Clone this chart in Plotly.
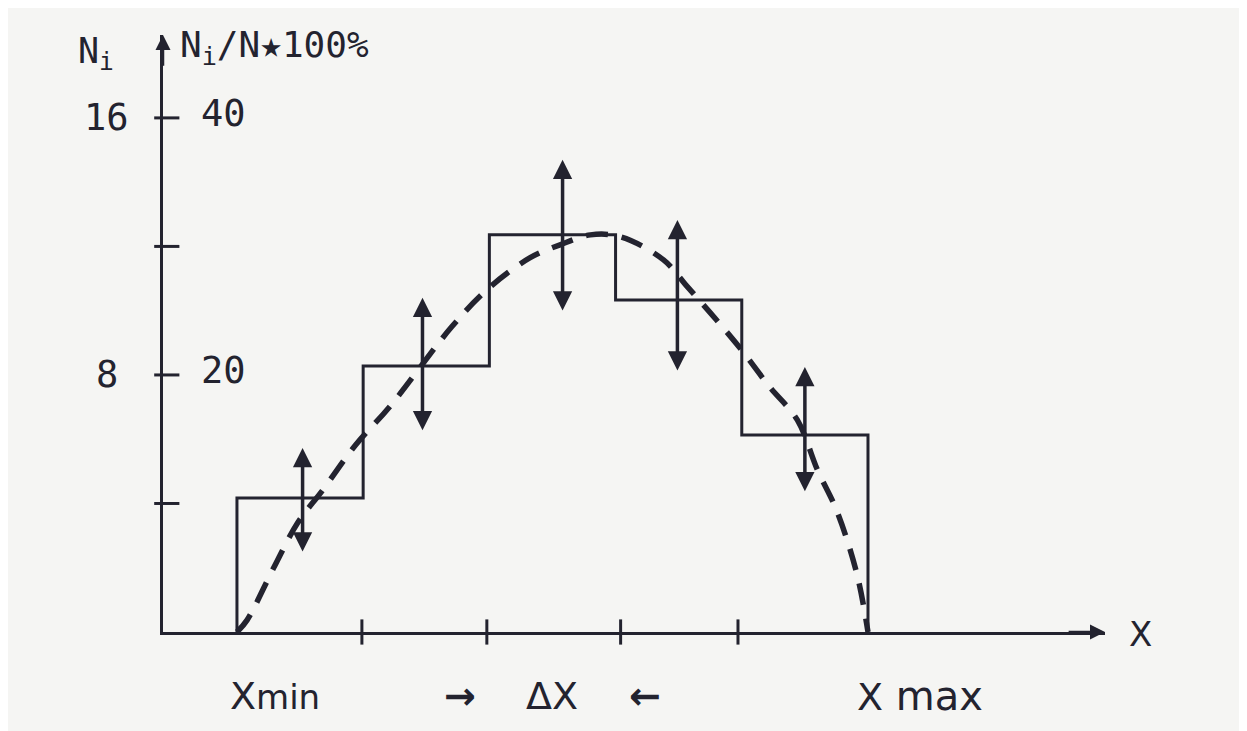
import plotly.graph_objects as go

# ---------------- data ----------------
bin_edges = [0, 1, 2, 3, 4, 5]
counts = [4.17, 8.28, 12.36, 10.33, 6.13]

err_x = [0.52, 1.47, 2.58, 3.49, 4.50]
err_low = [2.46, 6.23, 9.96, 8.09, 4.33]
err_high = [5.73, 10.40, 14.70, 12.82, 8.25]

curve_x = [0.0, 0.08, 0.29, 0.48, 0.68, 0.94, 1.21, 1.70, 1.98, 2.32, 2.56,
           2.80, 3.04, 3.38, 3.57, 3.80, 4.01, 4.22, 4.44, 4.60, 4.75, 4.91, 5.0]
curve_y = [0.0, 0.37, 1.99, 3.39, 4.42, 5.82, 7.01, 9.49, 10.65, 11.64, 12.05,
           12.36, 12.30, 11.58, 10.74, 9.71, 8.72, 7.63, 6.60, 5.04, 3.80, 1.84, 0.0]

y_tick_vals = [4, 8, 12, 16]
x_tick_vals = [0.99, 1.98, 3.04, 3.97]
y_label_vals = [16, 8]
y_left_text = ["16", "8"]
y_right_text = ["40", "20"]

INK = "#23232f"
PAPER = "#f5f5f3"

X_RANGE = [-0.586, 6.878]
Y_RANGE = [0, 18.58]


def px(u):
    return (u - X_RANGE[0]) / (X_RANGE[1] - X_RANGE[0])


def py(v):
    return (v - Y_RANGE[0]) / (Y_RANGE[1] - Y_RANGE[0])


fig = go.Figure()

# histogram outline as steps
hx, hy = [bin_edges[0]], [0]
for i, c in enumerate(counts):
    hx += [bin_edges[i], bin_edges[i + 1]]
    hy += [c, c]
hx.append(bin_edges[-1])
hy.append(0)
fig.add_trace(go.Scatter(x=hx, y=hy, mode="lines",
                         line=dict(color=INK, width=3), cliponaxis=False,
                         hoverinfo="skip", showlegend=False))

# dashed smooth curve
fig.add_trace(go.Scatter(x=curve_x, y=curve_y, mode="lines",
                         line=dict(color=INK, width=5.5, dash="22px,14px", shape="spline"),
                         cliponaxis=False, hoverinfo="skip", showlegend=False))

# tick marks crossing the axes
fig.add_trace(go.Scatter(x=x_tick_vals, y=[0] * len(x_tick_vals), mode="markers",
                         marker=dict(symbol="line-ns", size=18,
                                     line=dict(color=INK, width=3)),
                         cliponaxis=False, hoverinfo="skip", showlegend=False))
fig.add_trace(go.Scatter(x=[X_RANGE[0] + 0.03] * len(y_tick_vals), y=y_tick_vals,
                         mode="markers",
                         marker=dict(symbol="line-ew", size=18,
                                     line=dict(color=INK, width=3)),
                         cliponaxis=False, hoverinfo="skip", showlegend=False))

annotations = []

# double-headed uncertainty arrows
for ex, lo, hi in zip(err_x, err_low, err_high):
    annotations.append(dict(x=ex, y=hi, ax=ex, ay=lo, xref="x", yref="y",
                            axref="x", ayref="y", text="", showarrow=True,
                            arrowhead=2, arrowside="end+start", arrowsize=1.1,
                            arrowwidth=3.5, arrowcolor=INK))

# axis arrowheads
annotations.append(dict(x=X_RANGE[1], y=0, ax=X_RANGE[1] - 0.3, ay=0,
                        xref="x", yref="y", axref="x", ayref="y", text="",
                        showarrow=True, arrowhead=2, arrowsize=1.2,
                        arrowwidth=2.5, arrowcolor=INK))
annotations.append(dict(x=X_RANGE[0], y=Y_RANGE[1], ax=X_RANGE[0], ay=Y_RANGE[1] - 1,
                        xref="x", yref="y", axref="x", ayref="y", text="",
                        showarrow=True, arrowhead=2, arrowsize=1.2,
                        arrowwidth=2.5, arrowcolor=INK))

mono = "DejaVu Sans Mono, Liberation Mono, monospace"
hand = "DejaVu Sans, sans-serif"


def label(u, v, text, family, size, xanchor="center"):
    annotations.append(dict(x=px(u), y=py(v), xref="paper", yref="paper", text=text,
                            showarrow=False, xanchor=xanchor, yanchor="middle",
                            font=dict(family=family, size=size, color=INK)))


# y labels (left: counts, right: percent)
for v, lt, rt in zip(y_label_vals, y_left_text, y_right_text):
    label(-1.03, v, lt, mono, 37)
    label(-0.11, v + 0.15, rt, mono, 37)

# axis titles
label(-1.12, 18.0, "N<sub>i</sub>", mono, 35)
label(-0.47, 18.2, "N<sub>i</sub>/N★100%", mono, 36, xanchor="left")
label(7.16, -0.05, "X", hand, 34)

# bottom labels
bottom = [(0.30, "X<span style='font-size:34px'>min</span>"),
          (1.77, "<b>→</b>"), (2.50, "ΔX"), (3.23, "<b>←</b>"),
          (5.41, "X<span style='font-size:40px'> max</span>")]
for bx, bt in bottom:
    label(bx, -2.0, bt, hand, 38)

# page body adds an 8px offset; margins compensate so the plot lands in place
fig.update_layout(
    width=1247, height=731,
    margin=dict(l=155, r=150, t=27, b=107),
    paper_bgcolor=PAPER, plot_bgcolor=PAPER,
    showlegend=False,
    annotations=annotations,
    xaxis=dict(range=X_RANGE, showgrid=False, zeroline=False, showticklabels=False,
               ticks="", showline=True, linewidth=3, linecolor=INK, fixedrange=True),
    yaxis=dict(range=Y_RANGE, showgrid=False, zeroline=False, showticklabels=False,
               ticks="", showline=True, linewidth=3, linecolor=INK, fixedrange=True),
)

fig.write_html("out.html")
